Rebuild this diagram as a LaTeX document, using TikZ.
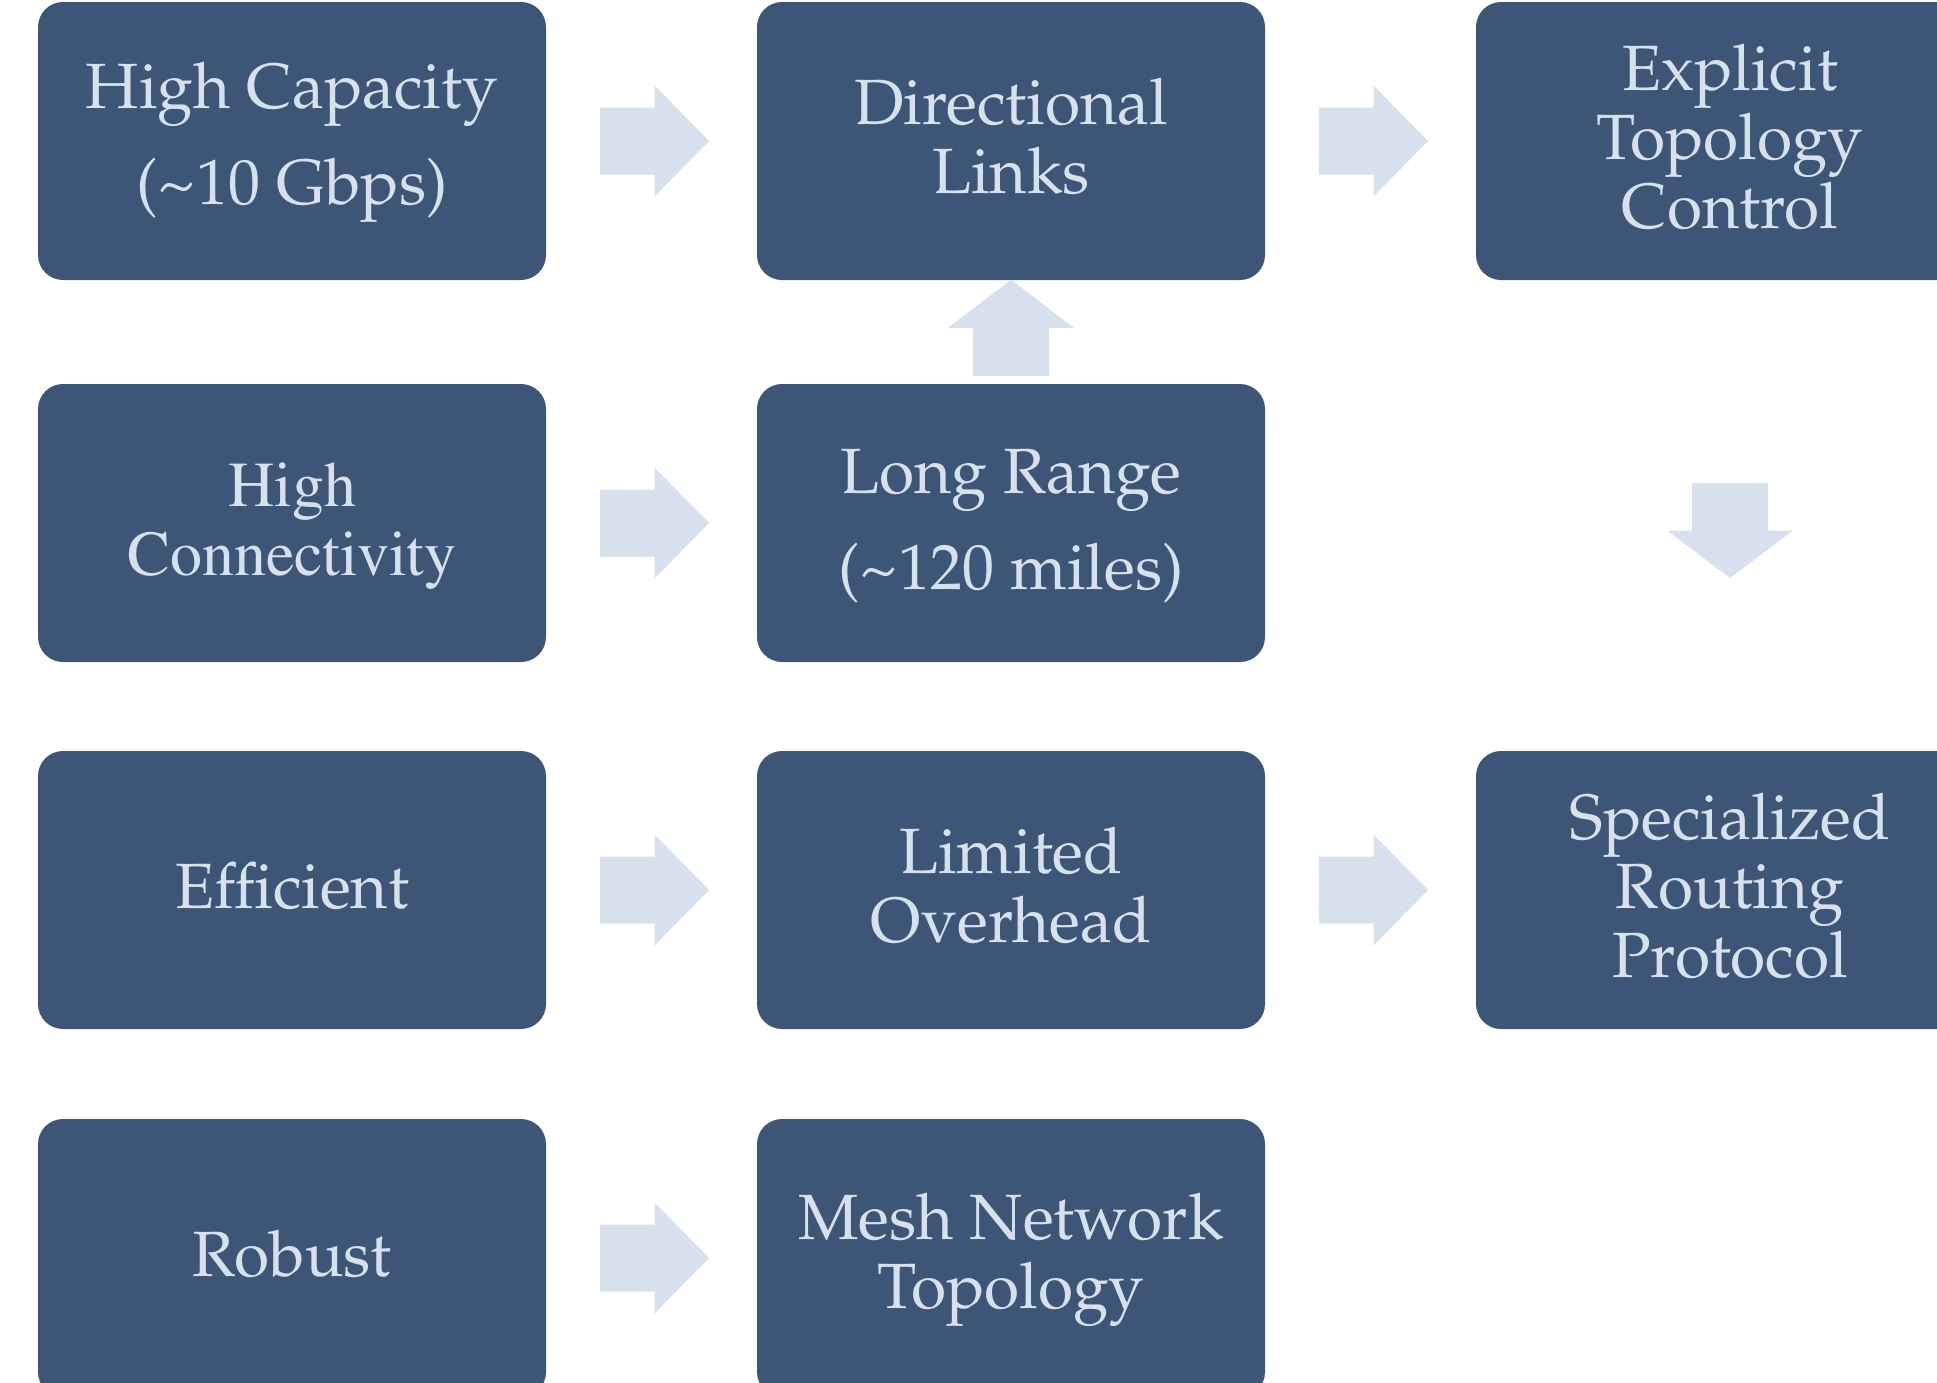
\documentclass[tikz,border=0pt]{standalone}
\IfFileExists{mathpazo.sty}{\usepackage[T1]{fontenc}\usepackage{mathpazo}}{\IfFileExists{palatino.sty}{\usepackage[T1]{fontenc}\usepackage{palatino}}{\usepackage{fontspec}\setmainfont{Liberation Serif}}}
\usetikzlibrary{calc}
\definecolor{boxblue}{HTML}{3D5677}
\definecolor{lightblue}{HTML}{D7E1ED}
\newcommand\bst{\rule[-14pt]{0pt}{64pt}}
\tikzset{
  box/.style={draw=none, fill=boxblue, rounded corners=25pt, minimum width=508pt, minimum height=278pt,
    inner sep=0pt, align=center, text=lightblue, font=\fontsize{64}{69}\selectfont},
  timesbox/.style={box, font=\fontsize{64}{69}\fontfamily{ptm}\selectfont},
  rarrow/.pic={\fill[lightblue] (-54.5,-33.5) -- (0,-33.5) -- (0,-55.5) -- (54.5,0) -- (0,55.5) -- (0,33.5) -- (-54.5,33.5) -- cycle;},
  uarrow/.pic={\fill[lightblue] (-38,48) -- (-38,0) -- (-63,0) -- (0,-48) -- (63,0) -- (38,0) -- (38,48) -- cycle;},
  darrow/.pic={\fill[lightblue] (-38,-47.5) -- (-38,0) -- (-63,0) -- (0,47.5) -- (63,0) -- (38,0) -- (38,-47.5) -- cycle;}
}
\begin{document}
\begin{tikzpicture}[x=1pt,y=-1pt]
\useasboundingbox (0,0) rectangle (1937,1382);
% row 1
\node[box] (hc) at (292,141) {\bst High Capacity\\[27pt]\bst(\textasciitilde10 Gbps)};
\node[box] (dl) at (1011,141) {\bst Directional\\\bst Links};
\node[box] (etc) at (1730,141) {\bst Explicit\\\bst Topology\\\bst Control};
% row 2
\node[timesbox] (hcn) at (292,523) {\bst High\\\bst Connectivity};
\node[box] (lr) at (1011,523) {\bst Long Range\\[27pt]\bst(\textasciitilde120 miles)};
% row 3
\node[box] (eff) at (292,890) {\bst Efficient};
\node[box] (lo) at (1011,890) {\bst Limited\\\bst Overhead};
\node[box] (srp) at (1730,890) {\bst Specialized\\\bst Routing\\\bst Protocol};
% row 4
\node[box] (rob) at (292,1258) {\bst Robust};
\node[box] (mnt) at (1011,1258) {\bst Mesh Network\\\bst Topology};
% arrows
\pic at ($(hc.east)!0.5!(dl.west)+(3,0)$) {rarrow};
\pic at ($(dl.east)!0.5!(etc.west)+(3,0)$) {rarrow};
\pic at ($(hcn.east)!0.5!(lr.west)+(3,0)$) {rarrow};
\pic at ($(eff.east)!0.5!(lo.west)+(3,0)$) {rarrow};
\pic at ($(lo.east)!0.5!(srp.west)+(3,0)$) {rarrow};
\pic at ($(rob.east)!0.5!(mnt.west)+(3,0)$) {rarrow};
\pic at ($(lr.north)+(0,-56)$) {uarrow};
\pic at ($(etc.south)!0.5!(srp.north)+(0,15)$) {darrow};
\end{tikzpicture}
\end{document}
